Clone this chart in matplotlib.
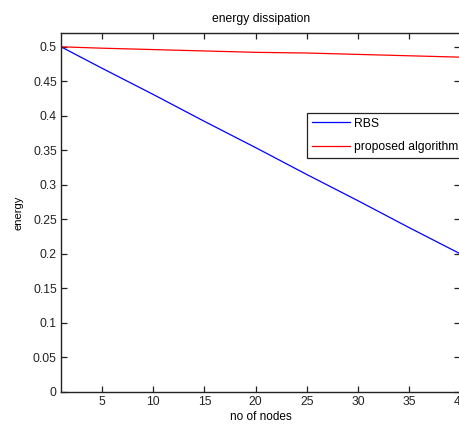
import matplotlib
matplotlib.use("Agg")
import matplotlib.pyplot as plt

# energy per node count, read at the x tick positions
nodes = [1, 5, 10, 15, 20, 25, 30, 35, 40]
rbs = [0.5, 0.469, 0.431, 0.392, 0.354, 0.315, 0.277, 0.238, 0.2]
proposed = [0.5, 0.498, 0.496, 0.494, 0.492, 0.491, 0.489, 0.487, 0.485]

xticks = [5, 10, 15, 20, 25, 30, 35, 40]
yticks = [0, 0.05, 0.1, 0.15, 0.2, 0.25, 0.3, 0.35, 0.4, 0.45, 0.5]
ytick_labels = ['0', '0.05', '0.1', '0.15', '0.2', '0.25', '0.3', '0.35', '0.4', '0.45', '0.5']

plt.rcParams['font.family'] = ['Liberation Sans', 'DejaVu Sans']

fig = plt.figure(figsize=(4.6, 4.29), dpi=100)
ax = fig.add_axes([61 / 460, 37 / 429, 399.5 / 460, 359 / 429])

ax.plot(nodes, rbs, color='#0000ff', lw=0.9, label='RBS')
ax.plot(nodes, proposed, color='#ff0000', lw=0.9, label='proposed algorithm')

ax.set_xlim(1, 40)
ax.set_ylim(0, 0.52)
ax.set_xticks(xticks)
ax.set_yticks(yticks)
ax.set_yticklabels(ytick_labels)
ax.tick_params(direction='in', length=4, width=0.9, top=True, right=True,
               labelsize=8.7, colors='#222222', pad=3)
for s in ax.spines.values():
    s.set_linewidth(1.0)
    s.set_color('#222222')

ax.set_title('energy dissipation', fontsize=8.7, pad=8)
ax.set_xlabel('no of nodes', fontsize=8.5, labelpad=2)
ax.set_ylabel('energy', fontsize=8, labelpad=7)

leg = ax.legend(loc='upper left', bbox_to_anchor=(0.616, 0.777), borderaxespad=0,
                fontsize=8.7, fancybox=False, edgecolor='#222222', framealpha=1,
                handlelength=3.2, handletextpad=0.3, labelspacing=0.95, borderpad=0.38)
leg.get_frame().set_linewidth(0.9)

fig.savefig('out.png', dpi=100)
